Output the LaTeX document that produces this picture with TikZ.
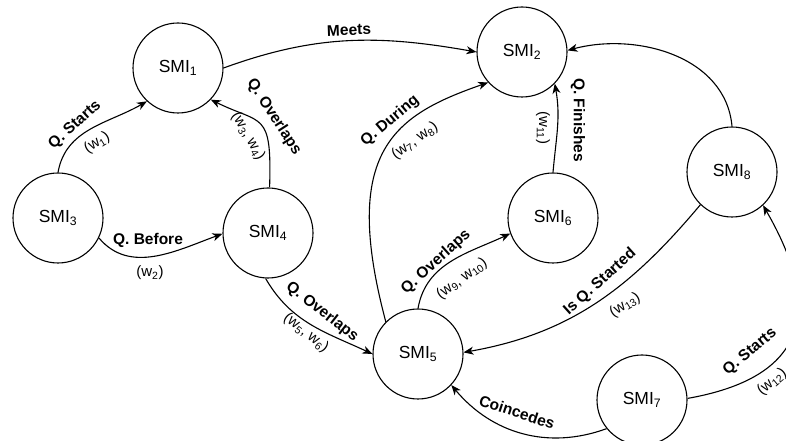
\documentclass[tikz,border=0pt]{standalone}
\usepackage{fontspec}
\setmainfont{Liberation Sans}
\usetikzlibrary{arrows.meta}
\begin{document}
\begin{tikzpicture}[x=1pt,y=1pt,
  smi/.style={circle, draw, line width=1.1pt, minimum size=90pt, inner sep=0pt, font=\fontsize{17.5}{20}\selectfont},
  edge/.style={line width=1.1pt, -{Stealth[length=10pt,width=8pt,inset=3pt]}},
  lbl/.style={font=\fontsize{15.5}{18}\selectfont\bfseries, inner sep=0pt},
  wt/.style={font=\fontsize{15}{17}\selectfont, inner sep=0pt}]
\useasboundingbox (0,0) rectangle (786,441);
% states
\node[smi] (n1) at (178,373) {SMI\textsubscript{1}};
\node[smi] (n2) at (522,389) {SMI\textsubscript{2}};
\node[smi] (n3) at (58,223) {SMI\textsubscript{3}};
\node[smi] (n4) at (268,208) {SMI\textsubscript{4}};
\node[smi] (n5) at (418,87) {SMI\textsubscript{5}};
\node[smi] (n6) at (553,223) {SMI\textsubscript{6}};
\node[smi] (n7) at (642,41) {SMI\textsubscript{7}};
\node[smi] (n8) at (732,269) {SMI\textsubscript{8}};
% connectors
\draw[edge] (n3.90) to[out=80,in=210] (n1.227);
\draw[edge] (n4.88) .. controls (272,331) and (262,316) .. (n1.316);
\draw[edge] (n1.0) to[out=20,in=170] (n2.180);
\draw[edge] (n3.334) to[out=-50,in=200] (n4.181);
\draw[edge] (n4.267) to[out=-60,in=155] (n5.180);
\draw[edge] (n5.135) .. controls (340,291) and (395,326) .. (n2.222);
\draw[edge] (n6.90) to[out=85,in=-80] (n2.316);
\draw[edge] (n5.90) to[out=80,in=205] (n6.200);
\draw[edge] (n8.90) to[out=95,in=15] (n2.2);
\draw[edge] (n8.226) to[out=230,in=10] (n5.2);
\draw[edge] (n7.2) to[out=10,in=-60,looseness=1.5] (n8.313);
\draw[edge] (n7.219) to[out=200,in=-50] (n5.317);
% labels
\node[lbl, rotate=42] (l1) at (75,316) {Q. Starts};
\node[wt, rotate=32] (w1) at (97,298) {(w\textsubscript{1})};
\node[lbl, rotate=-57] (l2) at (274,324) {Q. Overlaps};
\node[wt, rotate=-60] (w2) at (248,305) {(w\textsubscript{3}, w\textsubscript{4})};
\node[lbl, rotate=2] (l3) at (349,411) {Meets};
\node[lbl] (l4) at (148,201) {Q. Before};
\node[wt] (w4) at (150,168) {(w\textsubscript{2})};
\node[lbl, rotate=-38] (l5) at (322,129) {Q. Overlaps};
\node[wt, rotate=-38] (w5) at (306,108) {(w\textsubscript{5}, w\textsubscript{6})};
\node[lbl, rotate=40] (l6) at (390,320) {Q. During};
\node[wt, rotate=35] (w6) at (415,300) {(w\textsubscript{7}, w\textsubscript{8})};
\node[lbl, rotate=-90] (l7) at (578,321) {Q. Finishes};
\node[wt, rotate=-90] (w7) at (543,313) {(w\textsubscript{11})};
\node[lbl, rotate=42] (l8) at (436,179) {Q. Overlaps};
\node[wt, rotate=36] (w8) at (462,162) {(w\textsubscript{9}, w\textsubscript{10})};
\node[lbl, rotate=42] (l10) at (600,159) {Is Q. Started};
\node[wt, rotate=32] (w10) at (625,136) {(w\textsubscript{13})};
\node[lbl, rotate=40] (l11) at (750,89) {Q. Starts};
\node[wt, rotate=40] (w11) at (772,59) {(w\textsubscript{12})};
\node[lbl, rotate=-18] (l12) at (517,29) {Coincedes};
\end{tikzpicture}
\end{document}
